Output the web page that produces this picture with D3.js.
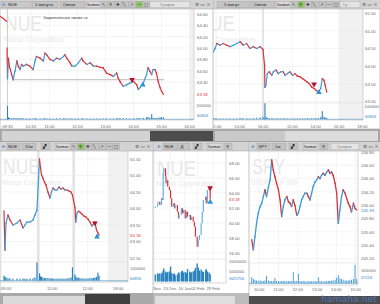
<!DOCTYPE html>
<html><head><meta charset="utf-8">
<script src="https://cdn.jsdelivr.net/npm/d3@7/dist/d3.min.js"></script>
<style>
html,body{margin:0;padding:0;background:#fff;overflow:hidden}
svg{display:block}
</style></head><body>
<svg id="chart" width="380" height="304"></svg>
<script>
// ================= DATA =================
// Window A: NUE, 1-minute chart, today (time = minutes of day)
const aPreTime  = [554, 561, 568];
const aPrePrice = [64.56, 64.52, 64.47];
const aTime = [569,570,572,574,579,582,586,590,593,597,600,604,611,618,625,629,632,640,647,650,654,661,668,675,682,690,693,697,704,708,715,722,729,732,740,747,754,761,768,775,782,790,797,804,807,811,818,825,832,840,847,850,854,861,868,871,875,879,882,886,889,893,897,900,904];
const aPrice = [64.00,63.46,63.82,63.68,63.53,63.44,63.59,63.77,63.68,63.62,63.71,63.68,63.71,63.68,63.62,63.77,63.85,63.82,63.77,63.91,63.88,63.80,63.77,63.82,63.80,63.85,63.88,63.82,63.74,63.68,63.68,63.74,63.82,63.77,63.71,63.74,63.68,63.68,63.66,63.65,63.56,63.53,63.50,63.56,63.47,63.41,63.32,63.35,63.38,63.41,63.35,63.27,63.30,63.38,63.53,63.65,63.59,63.53,63.62,63.62,63.56,63.41,63.30,63.24,63.18];
const aVol = [0,930,120,80,60,50,70,60,50,40,50,40,40,50,40,60,50,40,40,60,40,40,30,40,40,50,40,40,40,30,40,40,50,40,40,30,40,40,30,40,50,40,40,50,40,60,70,50,40,60,50,70,60,80,120,150,90,340,80,70,60,90,110,120,130];
const aTicksY = [64.6, 64.4, 64.2, 64.0, 63.8, 63.6, 63.4];
const aTicksX = [570, 620, 660, 720, 780, 840, 900, 960];
const aTickLabels = ["09:30","10:20","11:00","12:00","13:00","14:00","15:00","16:00"];
const aLevel = [63.44];
const aLevelSpan = [582, 906];
const aMarkT = [837, 860];
const aMarkP = [63.44, 63.35];

// Window B: NUE, 5-minute chart (previous session + today)
const bPrevTime  = [705,714,723,740,756,774,791,808,825,842,851,858,876,893,910,928,945,960];
const bPrevPrice = [64.40,64.50,64.64,64.59,64.64,64.59,64.55,64.59,64.64,64.69,64.64,64.59,64.64,64.50,64.55,64.50,64.55,64.47];
const bPrevVol   = [60,40,40,40,30,40,40,30,40,50,40,40,50,40,60,80,100,150];
const bTime  = [578,580,585,592,602,615,623,637,648,661,674,683,695,708,722,734,746,760,773,785,797,807,820,832,842,854,866,874,883,889,897];
const bPrice = [64.03,63.40,63.46,63.79,63.84,63.74,63.84,63.89,63.79,63.84,63.84,63.74,63.79,63.84,63.74,63.79,63.72,63.70,63.65,63.60,63.55,63.51,63.41,63.37,63.32,63.27,63.37,63.65,63.60,63.46,63.27];
const bVol   = [0,1050,150,80,60,50,40,40,50,40,40,30,40,40,30,40,40,30,40,40,50,40,60,50,60,70,120,520,150,90,80];
const bTicksY = [65.5, 65.0, 64.5, 64.0, 63.5, 63.0];
const bPrevTicks = [720, 840, 960];
const bPrevTickLabels = ["12:00","14:00","16:00"];
const bTicks = [720, 840, 960, 1080];
const bTickLabels = ["12:00","14:00","16:00","18:00"];
const bMarkT = [832, 857];
const bMarkP = [63.49, 63.26];

// Window C: NUE, 15-minute chart, three sessions
const c0Time  = [570,582,594,617,641,676,724,759,795,818,842,877,913,936,960];
const c0Price = [63.92,62.74,63.56,63.80,63.65,63.50,63.56,63.65,63.41,63.50,63.59,63.59,63.65,63.80,63.95];
const c0Vol   = [400,300,250,200,180,150,160,150,170,150,140,160,180,250,1500];
const c1Time  = [570,582,594,611,629,647,670,694,712,730,753,777,800,824,848,871,895,919,942,960];
const c1Price = [65.50,65.23,65.02,64.92,64.80,64.71,64.50,64.32,64.50,64.62,64.56,64.56,64.65,64.59,64.62,64.56,64.56,64.53,64.50,64.41];
const c1Vol   = [600,350,300,250,200,220,200,180,160,170,150,160,150,170,160,150,180,200,250,1100];
const c2Time  = [570,579,594,611,629,653,676,700,724,747,771,789,806,824,842,854];
const c2Price = [64.02,63.59,63.86,63.92,63.89,63.83,63.77,63.74,63.68,63.59,63.47,63.53,63.59,63.35,63.26,63.18];
const c2Vol   = [500,300,250,220,200,180,170,160,180,200,220,200,250,300,650,400];
const cTicksY = [65.5, 65.0, 64.5, 64.0, 63.5, 63.0, 62.5];
const cTickDay = [0, 1, 2, 2];
const cTickTime = [540, 720, 720, 1080];
const cTickLabels = ["09:00","12:00","12:00","18:00"];
const cMarkT = [806, 830];
const cMarkP = [63.56, 63.14];

// Window D: NUE, daily chart
const dDate = ["2015-11-19","2015-11-23","2015-11-24","2015-11-27","2015-11-30","2015-12-01","2015-12-03","2015-12-04","2015-12-07","2015-12-08","2015-12-09","2015-12-11","2015-12-14","2015-12-16","2015-12-18","2015-12-21","2015-12-23","2015-12-24","2015-12-28","2015-12-30","2015-12-31","2016-01-04","2016-01-06","2016-01-08","2016-01-11","2016-01-13","2016-01-15","2016-01-19","2016-01-20","2016-01-22","2016-01-25","2016-01-27","2016-01-29","2016-02-01","2016-02-03","2016-02-05","2016-02-08","2016-02-10","2016-02-12","2016-02-16","2016-02-17","2016-02-19","2016-02-22","2016-02-24"];
const dClose = [62.17,62.63,62.84,62.40,63.29,63.07,66.84,67.29,66.18,65.29,65.73,64.84,64.40,63.29,62.17,62.63,61.96,62.40,61.51,60.62,61.07,61.96,61.29,61.73,60.62,61.51,60.84,61.07,60.40,60.84,60.18,59.51,58.18,56.84,57.73,58.40,59.96,61.51,63.07,63.51,62.63,64.40,64.84,63.18];
const dVol = [3.5,4.0,3.8,4.2,3.6,4.5,5.5,6.5,5.0,4.5,4.2,4.8,5.0,7.5,4.2,3.8,4.0,3.0,3.5,4.6,4.2,5.0,5.4,4.5,4.8,4.2,6.2,5.0,4.4,4.6,5.0,5.5,6.8,9.0,7.0,5.5,6.0,5.0,4.8,5.5,6.2,5.0,4.5,3.626];
const dTicksY = [68, 66, 64, 62, 60, 58, 56];
const dTickDates = ["2015-11-17","2015-12-15","2016-01-10","2016-02-02","2016-02-29"];
const dTickLabels = ["17 Nov","15 Dec","10 Jan","02 Feb","29 Feb"];
const dMarkDate = ["2016-02-24","2016-02-24"];
const dMarkP = [64.67, 62.80];

// Window E: SPY, 1-minute chart
const eTime = [577,582,587,592,597,603,608,613,618,623,629,634,639,644,649,654,660,665,670,675,680,686,691,696,701,706,711,717,722,727,732,737,742,748,753,758,763,768,774,779,784,789,794,799,805,810,815,820,825,830,836,841,846,851,856,861,867,872,877,882,887,893,898,903];
const ePrice = [205.48,205.33,205.53,205.73,205.88,205.98,206.03,206.13,206.23,206.13,206.28,206.38,206.68,206.53,206.43,206.33,206.23,206.08,205.83,205.98,206.08,206.13,206.05,206.03,205.98,206.08,206.00,205.85,205.88,205.98,206.08,206.13,206.18,206.18,206.13,206.08,206.18,206.28,206.35,206.38,206.43,206.40,206.45,206.48,206.45,206.50,206.53,206.48,206.50,206.45,206.33,206.18,205.73,205.93,206.13,206.23,206.18,206.10,206.03,205.98,205.90,206.03,205.95,205.93];
const eVol = [450,300,250,200,180,200,150,150,200,550,180,150,150,160,400,150,140,130,150,160,150,140,130,150,140,850,160,150,700,140,130,150,140,130,120,140,130,150,140,130,450,140,130,120,140,150,160,170,180,200,250,400,600,350,300,250,200,180,200,220,250,300,1400,300];
const eTicksY = [206.8, 206.6, 206.4, 206.2, 206.0, 205.8, 205.6, 205.4, 205.2];
const eTicksX = [600, 660, 720, 780, 840, 900];
const eTickLabels = ["10:00","11:00","12:00","13:00","14:00","15:00"];

// ================= DRAWING =================
const FONT = "Liberation Sans, Arial, sans-serif";
const UP = "#3a9ad6", DN = "#d8313a", VOLC = "#2a82bd", GRID = "#ededed", AXC = "#6a6a6a", WM = "#e8e8e8";
const root = d3.select("#chart").attr("font-family", FONT);
const defs = root.append("defs");
const fmt2 = d3.format(".2f");
const parseD = d3.timeParse("%Y-%m-%d");

function frame(x, y, w, h) {
  root.append("rect").attr("x", x).attr("y", y).attr("width", w).attr("height", h)
    .attr("fill", "#fff").attr("stroke", "#9c9c9c").attr("stroke-width", 0.6);
}
function clipped(id, x, y, w, h) {
  defs.append("clipPath").attr("id", id).append("rect").attr("x", x).attr("y", y).attr("width", w).attr("height", h);
  return root.append("g").attr("clip-path", `url(#${id})`);
}
function toolbar(x0, x1, y0, items) {
  const g = root.append("g");
  g.append("rect").attr("x", x0).attr("y", y0).attr("width", x1 - x0).attr("height", 9).attr("fill", "#d3d3d3");
  g.append("line").attr("x1", x0).attr("x2", x1).attr("y1", y0 + 9).attr("y2", y0 + 9).attr("stroke", "#a3a3a3").attr("stroke-width", 0.5);
  items.forEach(it => {
    if (it.w) g.append("rect").attr("x", it.x).attr("y", y0 + 1.2).attr("width", it.w).attr("height", 6.6)
      .attr("fill", it.green ? "#8cc763" : (it.fill || "#c4c4c4")).attr("stroke", "#a4a4a4").attr("stroke-width", 0.4);
    if (it.t) g.append("text").attr("x", it.tx !== undefined ? it.tx : it.x + 1.3).attr("y", y0 + 6.3)
      .attr("font-size", it.fs || 4.3).attr("fill", it.c || "#262626")
      .attr("font-family", it.icon ? "DejaVu Sans, sans-serif" : FONT).text(it.t);
  });
}
function icons(list, xs, green) {
  const glyph = ["↖", "⚲", "✥", "╲", "↗", "—", "□"];
  return xs.map((x, i) => ({ x: x, w: 6.3, t: glyph[list[i]], icon: 1, fs: 4.4, tx: x + 1, green: green === i }));
}
function priceLine(g, xs, prices, y, sw) {
  const idx = d3.range(1, xs.length);
  g.selectAll(null).data(idx).join("line")
    .attr("x1", i => xs[i - 1]).attr("y1", i => y(prices[i - 1]))
    .attr("x2", i => xs[i]).attr("y2", i => y(prices[i]))
    .attr("stroke", i => prices[i] >= prices[i - 1] ? UP : DN)
    .attr("stroke-width", sw).attr("stroke-linecap", "square");
}
function volBars(g, xs, vols, yv, w, color) {
  g.selectAll(null).data(d3.range(xs.length)).join("rect")
    .attr("x", i => xs[i] - w / 2).attr("width", w)
    .attr("y", i => yv(vols[i])).attr("height", i => Math.max(0.6, yv(0) - yv(vols[i])))
    .attr("fill", color);
}
function hGrid(g, x0, x1, ys) {
  g.selectAll(null).data(ys).join("line").attr("x1", x0).attr("x2", x1)
    .attr("y1", d => d).attr("y2", d => d).attr("stroke", GRID).attr("stroke-width", 0.6);
}
function vGrid(g, xs, y0, y1, color, w) {
  g.selectAll(null).data(xs).join("line").attr("x1", d => d).attr("x2", d => d)
    .attr("y1", y0).attr("y2", y1).attr("stroke", color || GRID).attr("stroke-width", w || 0.6);
}
function rightAxis(x, scale, ticks, fmt, size, dy) {
  const g = root.append("g").attr("transform", `translate(${x},${dy || 0})`)
    .call(d3.axisRight(scale).tickValues(ticks).tickSize(0).tickPadding(0).tickFormat(fmt));
  g.select(".domain").remove();
  g.attr("font-size", size || 4.3).attr("font-family", FONT);
  g.selectAll("text").attr("fill", AXC);
  return g;
}
function tagLabel(x, y, txt, color, size) {
  root.append("text").attr("x", x).attr("y", y).attr("dy", "0.35em").attr("font-size", size || 4.3)
    .attr("fill", color).text(txt);
}
function bottomLabels(xs, y, labels, minX) {
  root.append("g").selectAll(null).data(xs).join("text").attr("x", d => Math.max(d, minX || 0)).attr("y", y)
    .attr("text-anchor", "middle").attr("font-size", 4.2).attr("fill", AXC).text((d, i) => labels[i]);
}
function marker(g, x, y, up) {
  g.append("path").attr("d", d3.symbol(d3.symbolTriangle, 14)())
    .attr("transform", `translate(${x},${y}) rotate(${up ? 0 : 180})`)
    .attr("fill", up ? "#2596d6" : "#b8132b");
}
// watermark text squeezed horizontally to the reference width (real geometric scale, so the box shrinks too)
function wmText(x, y, txt, size, len) {
  const t = root.append("text").attr("x", 0).attr("y", 0).attr("font-size", size).attr("fill", WM).text(txt);
  const natural = t.node().getComputedTextLength() || len;
  t.attr("transform", `translate(${x},${y}) scale(${len / natural},1)`);
}
function watermark(x, y, big, small, bigLen, smallLen) {
  wmText(x, y, big, 22, bigLen);
  wmText(x - 1, y + 10.5, small, 6.8, smallLen);
}

// ---------- Window B (behind A) ----------
frame(186, 0, 194, 129);
const xB = d3.scaleLinear().domain([570, 1083]).range([263, 363]);
const yB = d3.scaleLinear().domain([63, 65.5]).range([101.6, 13]);
const yBv = d3.scaleLinear().domain([0, 1000]).range([119, 104]);
const SHIFT = 390; // previous session placed just before today's open
// only the part of the watermark that shows beside window A
wmText(209, 31, "UE", 22, 26);
wmText(215, 41.5, "Corporation", 6.8, 40);
const gB = clipped("clipB", 186, 9, 177, 111);
gB.append("rect").attr("x", xB(960)).attr("y", 9).attr("width", 363 - xB(960)).attr("height", 111).attr("fill", "#f1f1f1");
hGrid(gB, 186, 363, bTicksY.map(yB));
vGrid(gB, bPrevTicks.map(t => xB(t - SHIFT)).concat(bTicks.map(xB)), 9, 120);
vGrid(gB, [xB(570)], 9, 120, "#cfcfcf", 1);
gB.append("line").attr("x1", 186).attr("x2", 363).attr("y1", 103).attr("y2", 103).attr("stroke", "#dedede").attr("stroke-width", 0.6);
const bXs = bPrevTime.map(t => xB(t - SHIFT)).concat(bTime.map(xB));
priceLine(gB, bXs, bPrevPrice.concat(bPrice), yB, 1.2);
volBars(gB, bXs, bPrevVol.concat(bVol), yBv, 1.1, VOLC);
gB.append("line").attr("x1", 186).attr("x2", 363).attr("y1", 119.3).attr("y2", 119.3).attr("stroke", VOLC).attr("stroke-width", 0.6);
marker(gB, xB(bMarkT[0]), yB(bMarkP[0]), false);
marker(gB, xB(bMarkT[1]), yB(bMarkP[1]), true);
root.append("line").attr("x1", 363).attr("x2", 363).attr("y1", 9).attr("y2", 120).attr("stroke", "#bdbdbd").attr("stroke-width", 0.6);
root.append("line").attr("x1", 186).attr("x2", 363).attr("y1", 120).attr("y2", 120).attr("stroke", "#bdbdbd").attr("stroke-width", 0.6);
rightAxis(365, yB, bTicksY, fmt2);
rightAxis(364.5, yBv, [1000], d => "1000000", 3.7, 2.5);
tagLabel(365, yBv(bVol[bVol.length - 1]) - 1.5, "60816", VOLC, 4);
bottomLabels(bPrevTicks.map(t => xB(t - SHIFT)).concat(bTicks.map(xB)), 127.5, bPrevTickLabels.concat(bTickLabels));
toolbar(186, 380, 0, [
  { x: 217, w: 33, t: "5 минут", tx: 224 }, { x: 251, w: 24, t: "Свечи", tx: 254 },
  { x: 276, w: 14, t: "Заявки", tx: 276.5, fs: 3.9, fill: "#d9d9d9" },
  ...icons([0, 1, 2, 3, 4, 5, 6], [291, 298, 305, 312, 319, 326, 333], 1),
  { x: 340, w: 20, fill: "#e4e4e4", t: "Гр...", tx: 343, c: "#8a8a8a" },
  { t: "⚙ ▭ ×", tx: 362, c: "#555", icon: 1, fs: 4.6 }
]);

// ---------- Window A ----------
frame(0, 0, 213, 129);
const xA = d3.scaleLinear().domain([570, 960]).range([7.5, 189.5]);
const yA = d3.scaleLinear().domain([63.4, 64.6]).range([82, 14]);
const yAv = d3.scaleLinear().domain([0, 1000]).range([119, 105]);
watermark(5, 31, "NUE", "Nucor Corporation", 37, 60);
const gA = clipped("clipA", 0, 9, 194, 111);
gA.append("rect").attr("x", xA(960)).attr("y", 9).attr("width", 194 - xA(960)).attr("height", 111).attr("fill", "#f1f1f1");
hGrid(gA, 0, 194, aTicksY.map(yA));
vGrid(gA, aTicksX.map(xA), 9, 120);
vGrid(gA, [xA(570)], 9, 120, "#cfcfcf", 1);
gA.append("line").attr("x1", 0).attr("x2", 194).attr("y1", 103).attr("y2", 103).attr("stroke", "#dedede").attr("stroke-width", 0.6);
gA.append("line").attr("x1", xA(aLevelSpan[0])).attr("x2", xA(aLevelSpan[1]))
  .attr("y1", yA(aLevel[0])).attr("y2", yA(aLevel[0])).attr("stroke", "#a9a9a9").attr("stroke-width", 0.8);
priceLine(gA, aPreTime.map(xA), aPrePrice, yA, 1.2);
priceLine(gA, aTime.map(xA), aPrice, yA, 1.2);
volBars(gA, aTime.map(xA), aVol, yAv, 1.1, VOLC);
gA.append("line").attr("x1", 0).attr("x2", 194).attr("y1", 119.3).attr("y2", 119.3).attr("stroke", VOLC).attr("stroke-width", 0.6);
marker(gA, xA(aMarkT[0]), yA(aMarkP[0]), false);
marker(gA, xA(aMarkT[1]), yA(aMarkP[1]), true);
root.append("text").attr("x", 43).attr("y", 19).attr("font-size", 4.1).attr("fill", "#333").text("Закреплённая линия ск");
root.append("line").attr("x1", 194).attr("x2", 194).attr("y1", 9).attr("y2", 120).attr("stroke", "#bdbdbd").attr("stroke-width", 0.6);
root.append("line").attr("x1", 0).attr("x2", 194).attr("y1", 120).attr("y2", 120).attr("stroke", "#bdbdbd").attr("stroke-width", 0.6);
rightAxis(197, yA, aTicksY, fmt2);
tagLabel(197, yA(aPrice[aPrice.length - 1]), fmt2(aPrice[aPrice.length - 1]), DN);
rightAxis(196.5, yAv, [1000], d => "1000000", 3.7);
tagLabel(197, yAv(aVol[aVol.length - 1]) - 1.5, "60816", VOLC, 4);
bottomLabels(aTicksX.map(xA), 127.5, aTickLabels, 6);
toolbar(0, 213, 0, [
  { x: 1, w: 30, fill: "#c9c9c9", t: "⊕", tx: 2, icon: 1, c: "#3a84c4" }, { t: "NUE", tx: 8 },
  { x: 32, w: 26, t: "1 минута", tx: 35 }, { x: 60, w: 25, t: "Свечи", tx: 63 },
  { x: 86, w: 14, t: "Заявки", tx: 86.5, fs: 3.9, fill: "#d9d9d9" },
  ...icons([0, 1, 2, 3, 4, 5, 6], [101, 108, 115, 122, 129, 136, 143], 5),
  { x: 150, w: 40, fill: "#e4e4e4", t: "График", tx: 160, c: "#8a8a8a" },
  { t: "⚙ ▭ ×", tx: 195, c: "#555", icon: 1, fs: 4.6 }
]);

// ---------- navigator band under top windows ----------
root.append("rect").attr("x", 0).attr("y", 129).attr("width", 380).attr("height", 13).attr("fill", "#a8a8a8");
root.append("rect").attr("x", 2).attr("y", 131).attr("width", 148).attr("height", 10).attr("fill", "#d3d3d3");
root.append("rect").attr("x", 150).attr("y", 131).attr("width", 63).attr("height", 10).attr("fill", "#4c4c4c");
root.append("rect").attr("x", 215).attr("y", 131).attr("width", 70).attr("height", 10).attr("fill", "#c9c9c9");
root.append("rect").attr("x", 285).attr("y", 131).attr("width", 93).attr("height", 10).attr("fill", "#dcdcdc");

// ---------- Window D (daily, behind C and E) ----------
frame(152, 142, 100, 162);
const xD = d3.scaleTime().domain([parseD("2015-12-15"), parseD("2016-02-29")]).range([170, 213]);
const yD = d3.scaleLinear().domain([56, 68]).range([253, 163]);
const yDv = d3.scaleLinear().domain([0, 10]).range([281.5, 261.5]);
watermark(157, 175.5, "NUE", "Nucor Corporation", 39, 61);
const gD = clipped("clipD", 152, 151, 74, 132);
hGrid(gD, 152, 226, dTicksY.map(yD));
vGrid(gD, dTickDates.map(d => xD(parseD(d))), 151, 282);
gD.append("line").attr("x1", 152).attr("x2", 226).attr("y1", 259).attr("y2", 259).attr("stroke", "#dedede").attr("stroke-width", 0.6);
const dXs = dDate.map(d => xD(parseD(d)));
gD.selectAll(null).data(d3.range(dXs.length)).join("rect")
  .attr("x", i => dXs[i] - 0.6).attr("width", 1.2)
  .attr("y", i => yD(Math.max(dClose[i], i ? dClose[i - 1] : dClose[i])))
  .attr("height", i => Math.max(1.2, Math.abs(yD(dClose[i]) - yD(i ? dClose[i - 1] : dClose[i]))))
  .attr("fill", i => (i && dClose[i] < dClose[i - 1]) ? DN : "#5fb3e3");
volBars(gD, dXs, dVol, yDv, 1.4, VOLC);
marker(gD, xD(parseD(dMarkDate[0])), yD(dMarkP[0]), false);
marker(gD, xD(parseD(dMarkDate[1])), yD(dMarkP[1]), true);
root.append("line").attr("x1", 226).attr("x2", 226).attr("y1", 151).attr("y2", 283).attr("stroke", "#bdbdbd").attr("stroke-width", 0.6);
root.append("line").attr("x1", 152).attr("x2", 226).attr("y1", 283).attr("y2", 283).attr("stroke", "#bdbdbd").attr("stroke-width", 0.6);
rightAxis(229, yD, dTicksY, fmt2);
tagLabel(229, yD(dClose[dClose.length - 1]), fmt2(dClose[dClose.length - 1]), DN);
rightAxis(229, yDv, [10, 5], d => d3.format("d")(d * 1e6), 3.9);
tagLabel(229, yDv(dVol[dVol.length - 1]) + 4, "3625756", VOLC, 3.9);
bottomLabels(dTickDates.map(d => xD(parseD(d))), 289.5, dTickLabels);
toolbar(152, 252, 142, [
  { t: "⊕", tx: 157, icon: 1, c: "#3a84c4" }, { x: 163, w: 14, t: "NUE", tx: 164.5 },
  { x: 178, w: 12, t: "Д", tx: 180.5 }, { x: 193, w: 9, t: "▞", tx: 195, icon: 1 },
  { x: 207, w: 15, t: "Заявки", tx: 207.5, fs: 3.9, fill: "#d9d9d9" },
  { x: 224, w: 8, t: "⚲", tx: 226, icon: 1 }
]);
root.append("rect").attr("x", 152).attr("y", 293).attr("width", 100).attr("height", 11).attr("fill", "#bcbcbc");
root.append("rect").attr("x", 155).attr("y", 296).attr("width", 80).attr("height", 8).attr("fill", "#dedede");

// ---------- Window C (15 min) ----------
frame(0, 142, 153, 162);
const xC = d3.scaleLinear().domain([0, 420]).range([4, 39.5]); // 420 = one session + overnight gap
const yC = d3.scaleLinear().domain([62.5, 65.5]).range([258, 159]);
const yCv = d3.scaleLinear().domain([0, 1000]).range([280.5, 268.5]);
const cPos = (day, t) => xC(day * 420 + t - 570);
watermark(3, 174, "NUE", "Nucor Corporation", 37, 60);
const gC = clipped("clipC", 0, 151, 128, 131);
[[390, 420], [810, 840], [1230, 1500]].forEach(r => gC.append("rect").attr("x", xC(r[0])).attr("y", 151)
  .attr("width", xC(r[1]) - xC(r[0])).attr("height", 131).attr("fill", r[0] > 1000 ? "#f1f1f1" : "#e2e2e2"));
hGrid(gC, 0, 128, cTicksY.map(yC));
vGrid(gC, cTickDay.map((d, i) => cPos(d, cTickTime[i])), 151, 281);
gC.append("line").attr("x1", 0).attr("x2", 128).attr("y1", 262).attr("y2", 262).attr("stroke", "#dedede").attr("stroke-width", 0.6);
const cXs = c0Time.map(t => cPos(0, t)).concat(c1Time.map(t => cPos(1, t)), c2Time.map(t => cPos(2, t)));
priceLine(gC, cXs, c0Price.concat(c1Price, c2Price), yC, 1.2);
volBars(gC, cXs, c0Vol.concat(c1Vol, c2Vol), yCv, 1.2, VOLC);
gC.append("line").attr("x1", 0).attr("x2", 128).attr("y1", 280.8).attr("y2", 280.8).attr("stroke", VOLC).attr("stroke-width", 0.6);
marker(gC, cPos(2, cMarkT[0]), yC(cMarkP[0]), false);
marker(gC, cPos(2, cMarkT[1]), yC(cMarkP[1]), true);
root.append("line").attr("x1", 128).attr("x2", 128).attr("y1", 151).attr("y2", 282).attr("stroke", "#bdbdbd").attr("stroke-width", 0.6);
root.append("line").attr("x1", 0).attr("x2", 128).attr("y1", 282).attr("y2", 282).attr("stroke", "#bdbdbd").attr("stroke-width", 0.6);
rightAxis(130, yC, cTicksY, fmt2);
tagLabel(130, yC(c2Price[c2Price.length - 1]), fmt2(c2Price[c2Price.length - 1]), DN);
rightAxis(130, yCv, [1000], d => "1000000", 3.9);
tagLabel(130, yCv(c2Vol[c2Vol.length - 1]) + 3, "60816", VOLC, 4);
bottomLabels(cTickDay.map((d, i) => cPos(d, cTickTime[i])), 290, cTickLabels, 6);
toolbar(0, 153, 142, [
  { t: "⊕", tx: 1.5, icon: 1, c: "#3a84c4" }, { x: 7, w: 13, t: "NUE", tx: 8 },
  { x: 22, w: 14, t: "15м", tx: 25 }, { x: 41, w: 9, t: "▞", tx: 43, icon: 1 },
  { x: 55, w: 15, t: "Заявки", tx: 55.5, fs: 3.9, fill: "#d9d9d9" },
  ...icons([0, 1, 2, 3, 4, 5, 6], [71, 78, 85, 92, 99, 106, 113], 1),
  { t: "⚙ ▭ ×", tx: 135, c: "#555", icon: 1, fs: 4.6 }
]);
root.append("rect").attr("x", 0).attr("y", 293).attr("width", 153).attr("height", 11).attr("fill", "#a9a9a9");
root.append("rect").attr("x", 3).attr("y", 296).attr("width", 82).attr("height", 8).attr("fill", "#dadada");
root.append("rect").attr("x", 85).attr("y", 294).attr("width", 45).attr("height", 10).attr("fill", "#3f3f3f");

// ---------- Window E (SPY 1 min) ----------
frame(249, 142, 131, 162);
const xE = d3.scaleLinear().domain([570, 906]).range([249.5, 357.6]);
const yE = d3.scaleLinear().domain([205.2, 206.8]).range([258.4, 152]);
const yEv = d3.scaleLinear().domain([0, 1000]).range([283, 270]);
watermark(252, 174, "SPY", "SPDR S&P 500", 33, 46);
const gE = clipped("clipE", 249, 151, 109, 133);
hGrid(gE, 249, 358, eTicksY.map(yE));
vGrid(gE, eTicksX.map(xE), 151, 284);
gE.append("line").attr("x1", 249).attr("x2", 358).attr("y1", 263).attr("y2", 263).attr("stroke", "#dedede").attr("stroke-width", 0.6);
const eXs = eTime.map(xE);
priceLine(gE, eXs, ePrice, yE, 1.3);
volBars(gE, eXs, eVol, yEv, 0.9, "#3d97cf");
gE.append("line").attr("x1", 249).attr("x2", 358).attr("y1", 283.3).attr("y2", 283.3).attr("stroke", VOLC).attr("stroke-width", 0.6);
root.append("line").attr("x1", 358).attr("x2", 358).attr("y1", 151).attr("y2", 285).attr("stroke", "#bdbdbd").attr("stroke-width", 0.6);
root.append("line").attr("x1", 249).attr("x2", 358).attr("y1", 285).attr("y2", 285).attr("stroke", "#bdbdbd").attr("stroke-width", 0.6);
rightAxis(361, yE, eTicksY, fmt2);
tagLabel(361, yE(ePrice[ePrice.length - 1]) + 0.5, fmt2(ePrice[ePrice.length - 1]), VOLC);
rightAxis(361, yEv, [1000], d => "1000000", 3.8);
tagLabel(361, yEv(eVol[eVol.length - 1]) - 1.5, "67154", VOLC, 4);
bottomLabels(eTicksX.map(xE), 291.2, eTickLabels);
toolbar(249, 380, 142, [
  { t: "⊕", tx: 251, icon: 1, c: "#3a84c4" }, { x: 257, w: 13, t: "SPY", tx: 258.5 },
  { x: 272, w: 14, t: "1м", tx: 275 }, { x: 289, w: 9, t: "▞", tx: 291, icon: 1 },
  { x: 303, w: 15, t: "Заявки", tx: 303.5, fs: 3.9, fill: "#d9d9d9" },
  { x: 320, w: 8, t: "⚲", tx: 322, icon: 1 },
  { x: 331, w: 28, fill: "#e4e4e4", t: "График", tx: 337, c: "#8a8a8a" },
  { t: "⚙ ▭ ×", tx: 363, c: "#555", icon: 1, fs: 4.6 }
]);
root.append("rect").attr("x", 249).attr("y", 296).attr("width", 131).attr("height", 8).attr("fill", "#4d4d4d");
const hm = root.append("text").attr("x", 0).attr("y", 0).attr("font-size", 9).attr("font-family", "DejaVu Sans, sans-serif")
  .attr("fill", "#4f7fd0").attr("fill-opacity", 0.85).text("hamaha.net");
hm.attr("transform", `translate(321,301.8) scale(${56 / (hm.node().getComputedTextLength() || 56)},1)`);
</script>
</body></html>
